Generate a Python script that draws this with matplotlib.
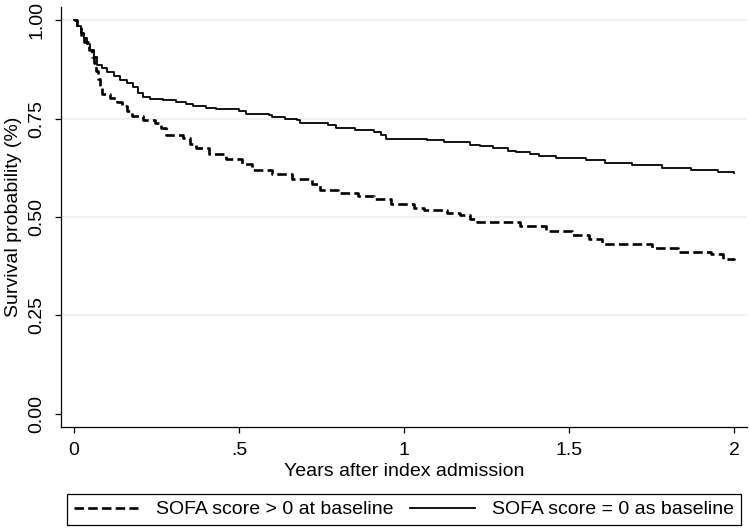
import matplotlib
matplotlib.use("Agg")
import matplotlib.pyplot as plt

plt.rcParams['font.family'] = ['Liberation Sans', 'DejaVu Sans']

# Kaplan-Meier estimates
years_pos = [0.000, 0.010, 0.020, 0.030, 0.045, 0.055, 0.062, 0.068, 0.073,
             0.078, 0.085, 0.110, 0.130, 0.145, 0.160, 0.175, 0.210, 0.245,
             0.265, 0.280, 0.330, 0.350, 0.370, 0.410, 0.460, 0.510, 0.540,
             0.600, 0.660, 0.720, 0.745, 0.800, 0.860, 0.910, 0.960, 1.030,
             1.060, 1.130, 1.170, 1.200, 1.220, 1.350, 1.430, 1.510, 1.560,
             1.600, 1.750, 1.830, 1.930, 1.965, 2.000]
surv_pos = [1.000, 0.980, 0.962, 0.945, 0.925, 0.907, 0.890, 0.870, 0.850,
            0.830, 0.812, 0.802, 0.792, 0.782, 0.768, 0.756, 0.746, 0.738,
            0.725, 0.708, 0.700, 0.685, 0.675, 0.660, 0.648, 0.635, 0.620,
            0.610, 0.596, 0.584, 0.568, 0.561, 0.553, 0.545, 0.534, 0.523,
            0.517, 0.511, 0.505, 0.495, 0.488, 0.476, 0.465, 0.455, 0.444,
            0.432, 0.422, 0.411, 0.406, 0.393, 0.391]

years_zero = [0.000, 0.010, 0.020, 0.030, 0.040, 0.050, 0.060, 0.070, 0.085,
              0.100, 0.120, 0.140, 0.160, 0.180, 0.195, 0.210, 0.230, 0.270,
              0.310, 0.340, 0.360, 0.400, 0.430, 0.500, 0.520, 0.590, 0.600,
              0.640, 0.675, 0.685, 0.770, 0.795, 0.850, 0.910, 0.930, 0.945,
              1.070, 1.120, 1.200, 1.230, 1.270, 1.315, 1.340, 1.380, 1.410,
              1.460, 1.550, 1.610, 1.690, 1.780, 1.870, 1.950, 2.000]
surv_zero = [1.000, 0.985, 0.968, 0.955, 0.940, 0.925, 0.905, 0.885, 0.878,
             0.868, 0.858, 0.848, 0.840, 0.831, 0.815, 0.805, 0.799, 0.797,
             0.793, 0.787, 0.782, 0.777, 0.773, 0.769, 0.762, 0.760, 0.755,
             0.750, 0.745, 0.738, 0.733, 0.725, 0.721, 0.717, 0.708, 0.699,
             0.695, 0.690, 0.684, 0.680, 0.676, 0.667, 0.664, 0.659, 0.656,
             0.650, 0.644, 0.638, 0.631, 0.624, 0.619, 0.613, 0.611]

x_ticks = [0, 0.5, 1, 1.5, 2]
x_ticklabels = ['0', '.5', '1', '1.5', '2']
y_ticks = [0, 0.25, 0.5, 0.75, 1.0]
y_ticklabels = ['0.00', '0.25', '0.50', '0.75', '1.00']

FS = 14

fig = plt.figure(figsize=(7.5, 5.31), dpi=100)
ax = fig.add_axes([0.0813, 0.1959, 0.915, 0.7909])

for yv in y_ticks[1:]:
    ax.axhline(yv, color='#e6eef1', linewidth=1.1, zorder=0)

ax.step(years_pos, surv_pos, where='post', color='black', linewidth=1.9,
        linestyle=(0, (3.6, 1.6)), label='SOFA score > 0 at baseline')
ax.step(years_zero, surv_zero, where='post', color='black', linewidth=1.3,
        label='SOFA score = 0 as baseline')

ax.set_xlim(-0.0394, 2.0394)
ax.set_ylim(-0.033, 1.033)

ax.set_xticks(x_ticks)
ax.set_xticklabels(x_ticklabels)
ax.set_yticks(y_ticks)
ax.set_yticklabels(y_ticklabels, rotation=90, va='center')

ax.spines['top'].set_visible(False)
ax.spines['right'].set_visible(False)
ax.spines['left'].set_linewidth(0.9)
ax.spines['bottom'].set_linewidth(0.9)
ax.tick_params(axis='both', which='major', length=4.5, width=0.9,
               labelsize=FS, colors='black')
ax.tick_params(axis='x', pad=6.5)
ax.tick_params(axis='y', pad=6.5)

ax.set_xlabel('Years after index admission', fontsize=FS, labelpad=3)
ax.set_ylabel('Survival probability (%)', fontsize=FS, labelpad=5)

leg = fig.legend(loc='center', bbox_to_anchor=(404 / 750, 1 - 509.5 / 531),
                 ncol=2, fontsize=FS, frameon=True, fancybox=False,
                 edgecolor='black', framealpha=1, handlelength=3.3,
                 handletextpad=0.9, columnspacing=0.9, borderpad=0.35,
                 borderaxespad=0)
leg.get_frame().set_linewidth(0.9)

fig.savefig('out.png', dpi=100)
